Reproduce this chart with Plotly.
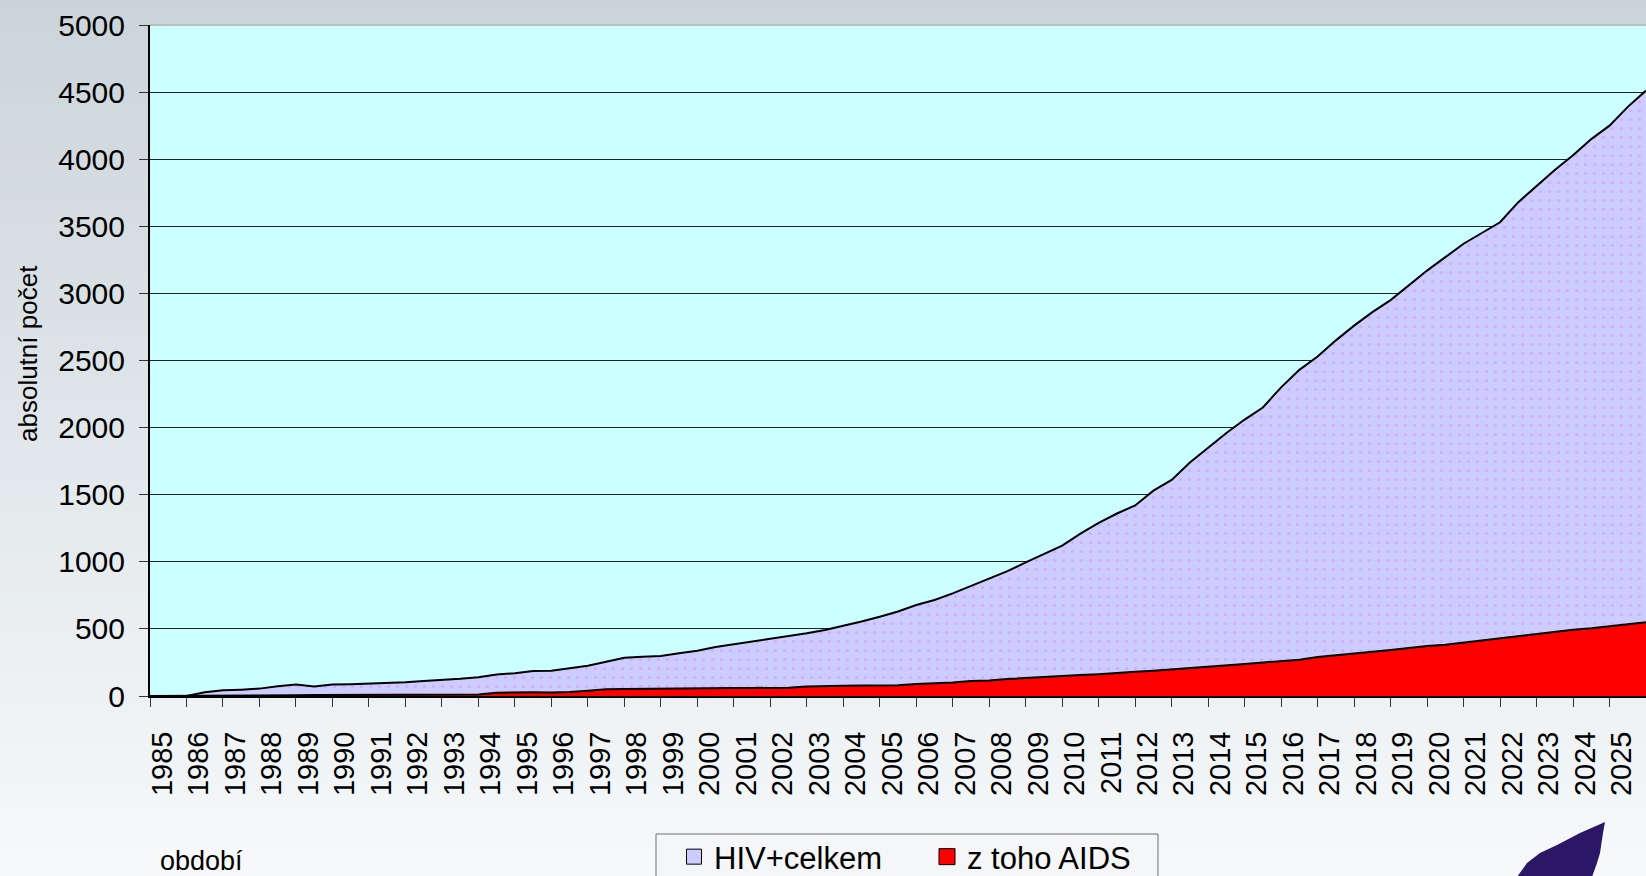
import numpy as np
import plotly.graph_objects as go

# ---- data (half-year time points) ----
time_points = [1985.0 + 0.5 * i for i in range(83)]  # 1985.0 ... 2026.0

hiv_total = [
    0, 0, 0, 28, 42, 47, 55, 72, 85, 70,
    86, 88, 92, 100, 102, 112, 118, 128, 140, 160,
    170, 186, 189, 205, 226, 255, 285, 292, 298, 318,
    338, 365, 385, 405, 425, 445, 467, 492, 522, 555,
    591, 630, 678, 715, 765, 820, 870, 930, 995, 1060,
    1120, 1210, 1290, 1360, 1420, 1530, 1610, 1740, 1850, 1960,
    2060, 2150, 2300, 2430, 2530, 2650, 2760, 2860, 2950, 3060,
    3170, 3270, 3370, 3450, 3530, 3680, 3800, 3920, 4030, 4150,
    4250, 4390, 4511,
]

aids = [
    0, 0, 0, 0, 0, 0, 0, 0, 5, 8,
    8, 9, 9, 10, 10, 11, 11, 12, 12, 25,
    28, 28, 27, 30, 40, 50, 52, 54, 55, 57,
    58, 58, 59, 60, 61, 62, 70, 76, 77, 78,
    79, 80, 89, 94, 100, 112, 116, 127, 133, 140,
    147, 156, 163, 169, 180, 188, 197, 208, 216, 226,
    238, 250, 261, 270, 290, 305, 318, 330, 343, 358,
    372, 382, 398, 412, 428, 444, 462, 480, 494, 505,
    518, 535, 549,
]

year_labels = [str(y) for y in range(1985, 2026)]
year_bounds = list(range(1985, 2027))
y_ticks = list(range(0, 5001, 500))

# ---- layout geometry ----
W, H = 1646, 876
ML, MR, MT, MB = 150, 0, 25, 180
PW, PH = W - ML - MR, H - MT - MB


def px2paper(px, py):
    return (px - ML) / PW, (H - MB - py) / PH


fig = go.Figure()

fig.add_trace(go.Scatter(
    x=time_points, y=hiv_total, mode="lines", fill="tozeroy",
    line=dict(color="black", width=2),
    fillcolor="#CCCCFF",
    fillpattern=dict(shape=".", bgcolor="#CCCCFF", fgcolor="#CF90FA",
                     size=9, solidity=0.1),
    showlegend=False, hoverinfo="skip", name="HIV+celkem",
))
fig.add_trace(go.Scatter(
    x=time_points, y=aids, mode="lines", fill="tozeroy",
    line=dict(color="black", width=2),
    fillcolor="#FF0000",
    showlegend=False, hoverinfo="skip", name="z toho AIDS",
))

# legend entries (square swatches)
fig.add_trace(go.Scatter(
    x=[None], y=[None], mode="markers", name="HIV+celkem",
    marker=dict(symbol="square", size=15, color="#CCCCFF",
                line=dict(color="black", width=1)),
))
fig.add_trace(go.Scatter(
    x=[None], y=[None], mode="markers", name="z toho AIDS",
    marker=dict(symbol="square", size=16, color="#FF0000",
                line=dict(color="black", width=1)),
))

# ---- background gradient outside plot area ----
shapes = []
top_c = np.array([202, 212, 218])
bot_c = np.array([247, 249, 250])
n_bands = 60
for i in range(n_bands):
    y0p = H * i / n_bands
    y1p = H * (i + 1) / n_bands + 1
    c = top_c + (bot_c - top_c) * ((i + 0.5) / n_bands)
    col = "rgb(%d,%d,%d)" % tuple(c.round().astype(int))
    _, ya = px2paper(0, y0p)
    _, yb = px2paper(0, y1p)
    lo, hi = min(ya, yb), max(ya, yb)
    if hi > 1:
        shapes.append(dict(type="rect", xref="paper", yref="paper",
                           x0=-ML / PW, x1=1 + MR / PW + 0.01,
                           y0=max(lo, 1), y1=hi, fillcolor=col,
                           line=dict(width=0), layer="below"))
    if lo < 0:
        shapes.append(dict(type="rect", xref="paper", yref="paper",
                           x0=-ML / PW, x1=1 + MR / PW + 0.01,
                           y0=lo, y1=min(hi, 0), fillcolor=col,
                           line=dict(width=0), layer="below"))
    if hi > 0 and lo < 1:
        shapes.append(dict(type="rect", xref="paper", yref="paper",
                           x0=-ML / PW, x1=0,
                           y0=max(lo, 0), y1=min(hi, 1), fillcolor=col,
                           line=dict(width=0), layer="below"))

# top border of plot area
shapes.append(dict(type="line", xref="paper", yref="paper",
                   x0=0, x1=1, y0=1, y1=1,
                   line=dict(color="#BDBDBD", width=2), layer="above"))

# legend frame
lx0, ly0 = px2paper(656, 834)
lx1, ly1 = px2paper(1158, 892)
shapes.append(dict(type="rect", xref="paper", yref="paper",
                   x0=lx0, x1=lx1, y0=ly1, y1=ly0,
                   fillcolor="#F4F6F8", line=dict(color="#6E6E6E", width=1),
                   layer="above"))

# decorative logo leaf (bottom right)
leaf = [(1605, 822), (1580, 833), (1557, 845), (1540, 853), (1527, 863),
        (1517, 877), (1592, 877), (1597, 863), (1600, 853), (1603, 833)]
pp = [px2paper(a, b) for a, b in leaf]
path = "M " + " L ".join("%f,%f" % p for p in pp) + " Z"
shapes.append(dict(type="path", xref="paper", yref="paper", path=path,
                   fillcolor="#2B1766", line=dict(width=0), layer="above"))

FONT = "Liberation Sans, Arial, sans-serif"

fig.update_layout(
    width=W, height=H,
    margin=dict(l=ML, r=MR, t=MT, b=MB, pad=0, autoexpand=False),
    paper_bgcolor="rgb(225,231,235)",
    plot_bgcolor="#CCFFFF",
    shapes=shapes,
    font=dict(family=FONT, color="black"),
    showlegend=True,
    legend=dict(
        orientation="h", x=(674 - ML) / PW, xanchor="left",
        y=(H - MB - 830) / PH, yanchor="top",
        bgcolor="rgba(0,0,0,0)", borderwidth=0,
        font=dict(size=31, family=FONT, color="black"),
        entrywidth=208, entrywidthmode="pixels",
    ),
    annotations=[
        dict(text="absolutní počet", xref="paper", yref="paper",
             x=(28 - ML) / PW, y=(H - MB - 353) / PH, textangle=-90,
             showarrow=False, xanchor="center", yanchor="middle",
             font=dict(size=26, family=FONT, color="black")),
        dict(text="období", xref="paper", yref="paper",
             x=(158 - ML) / PW, y=(H - MB - 861) / PH,
             showarrow=False, xanchor="left", yanchor="middle",
             font=dict(size=27, family=FONT, color="black")),
    ],
)

fig.update_xaxes(
    range=[1985, 2026], showgrid=False, zeroline=False, automargin=False,
    tickmode="array",
    tickvals=[y + 0.34 for y in range(1985, 2026)],
    ticktext=year_labels, tickangle=-90,
    ticks="outside", ticklen=0,
    ticklabelstandoff=22,
    tickfont=dict(size=29, family=FONT, color="black"),
    showline=True, linecolor="black", linewidth=2,
    minor=dict(tickmode="array", tickvals=year_bounds, ticks="outside",
               ticklen=9, tickcolor="#333333", tickwidth=1, showgrid=False),
)
fig.update_yaxes(
    range=[0, 5000], tickmode="array", tickvals=y_ticks, automargin=False,
    showgrid=True, gridcolor="#222222", gridwidth=1,
    zeroline=False,
    ticks="outside", ticklen=9, tickcolor="#333333",
    tickfont=dict(size=30, family=FONT, color="black"),
    showline=True, linecolor="black", linewidth=2,
    ticklabelstandoff=8,
)

fig.write_html(
    "out.html",
    config={"displayModeBar": False, "staticPlot": True},
    post_script="document.body.style.margin='0';"
                "document.body.style.overflow='hidden';"
                "document.body.style.background='rgb(247,249,250)';",
)
